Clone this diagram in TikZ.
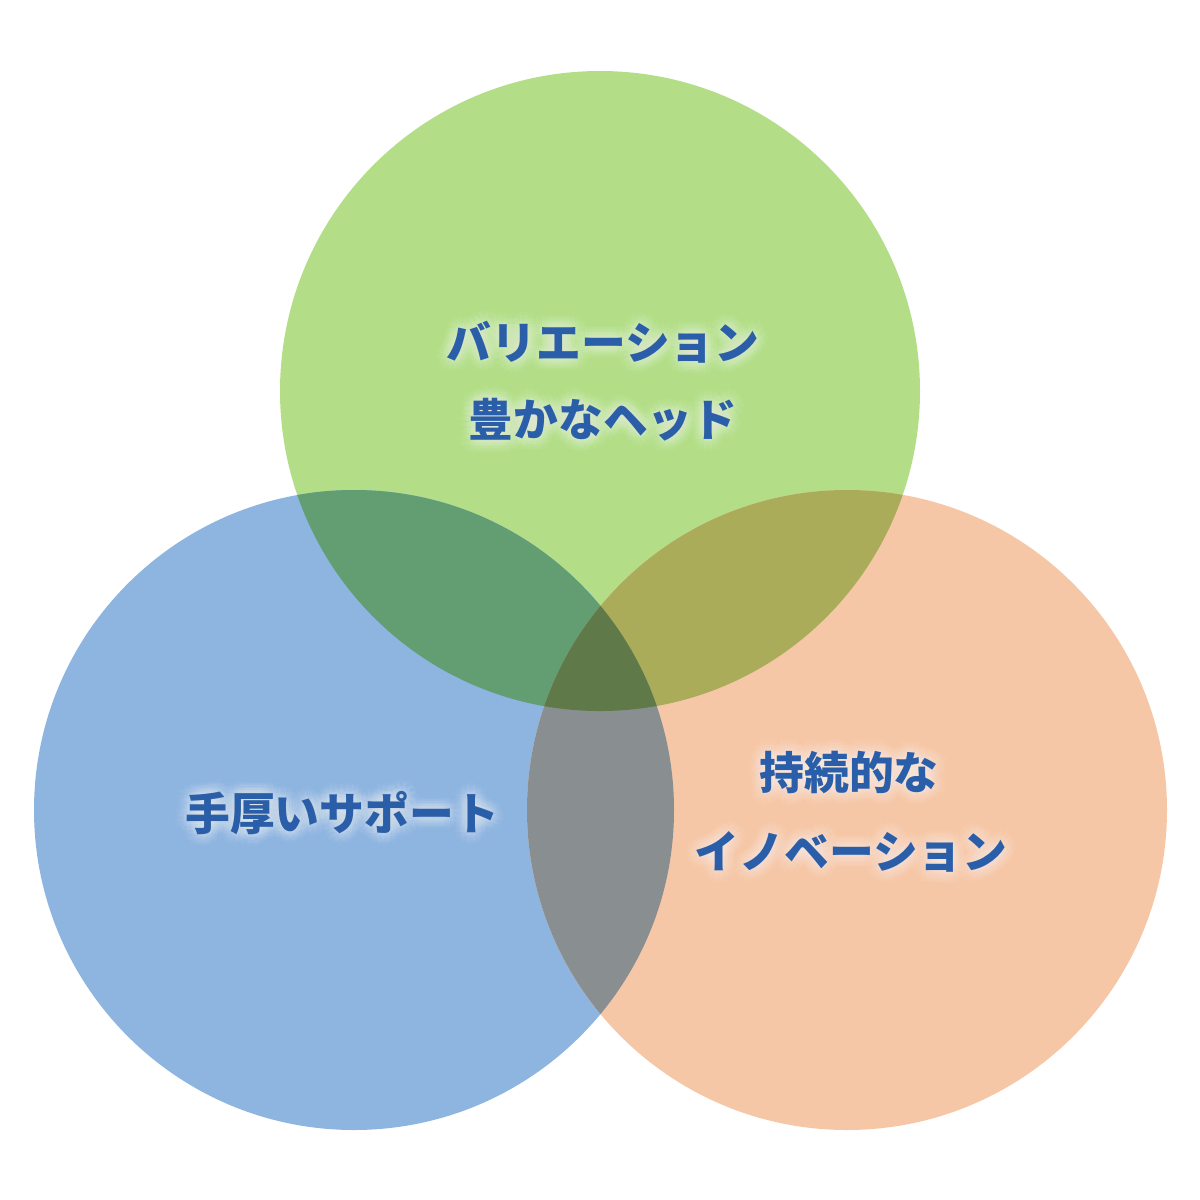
\documentclass[tikz,border=0pt]{standalone}
\usepackage{fontspec}
\newfontfamily\jp{Noto Sans CJK JP}
\usetikzlibrary{calc}
\definecolor{cG}{HTML}{B3DE87}
\definecolor{cB}{HTML}{8DB5E0}
\definecolor{cO}{HTML}{F6C7A7}
\definecolor{cGB}{HTML}{629E72}
\definecolor{cGO}{HTML}{AAAC5A}
\definecolor{cBO}{HTML}{898E91}
\definecolor{cAll}{HTML}{5F7A48}
\definecolor{txt}{HTML}{2A5EA8}
\tikzset{
  lbl/.style={font=\jp\bfseries\fontsize{22.4pt}{26pt}\selectfont, text=txt, inner sep=0pt},
  glow/.style={font=\jp\bfseries\fontsize{22.4pt}{26pt}\selectfont, text=white, inner sep=0pt, opacity=0.04},
}
\newcommand{\glowlabel}[3]{%
  \foreach \r in {1.5,3,4.5,6}{%
    \foreach \a in {0,30,...,330}{%
      \node[glow] (#2-g-\r-\a) at ($(#1)+(\a:\r pt)$) {#3};
    }%
  }%
  \node[lbl] (#2) at (#1) {#3};%
}
\begin{document}
\begin{tikzpicture}[x=0.5pt,y=-0.5pt]
\useasboundingbox (0,0) rectangle (1200,1200);
\coordinate (cg) at (600,391);
\coordinate (cb) at (354,810);
\coordinate (co) at (847,810);
\def\R{160pt}
\fill[cG] (cg) circle (\R);
\fill[cB] (cb) circle (\R);
\fill[cO] (co) circle (\R);
\begin{scope}
  \clip (cg) circle (\R);
  \fill[cGB] (cb) circle (\R);
  \fill[cGO] (co) circle (\R);
\end{scope}
\begin{scope}
  \clip (cb) circle (\R);
  \fill[cBO] (co) circle (\R);
\end{scope}
\begin{scope}
  \clip (cg) circle (\R);
  \clip (cb) circle (\R);
  \fill[cAll] (co) circle (\R);
\end{scope}
\coordinate (p1) at (603,342);
\coordinate (p2) at (603,420);
\coordinate (p3) at (342,813);
\coordinate (p4) at (849,772);
\coordinate (p5) at (851,852);
\glowlabel{p1}{t1}{バリエーション}
\glowlabel{p2}{t2}{豊かなヘッド}
\glowlabel{p3}{t3}{手厚いサポート}
\glowlabel{p4}{t4}{持続的な}
\glowlabel{p5}{t5}{イノベーション}
\end{tikzpicture}
\end{document}
